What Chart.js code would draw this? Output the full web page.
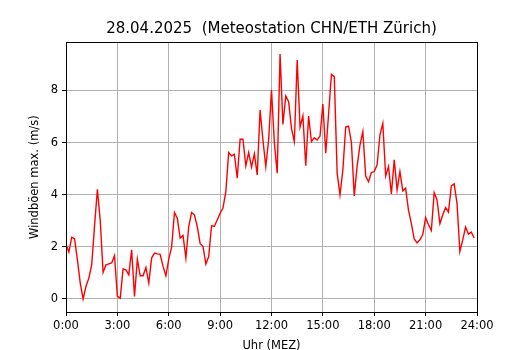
<!DOCTYPE html>
<html>
<head>
<meta charset="utf-8">
<script src="https://cdn.jsdelivr.net/npm/chart.js@4"></script>
<style>
    body { margin: 0; background: #fff; }
    canvas { display: block; }
</style>
</head>
<body>
<canvas id="graphique-vent" width="530" height="350"></canvas>
<script>
// Windböen max. (m/s), alle 10 Minuten ab 0:00
const windboeen = [
    2.1, 1.8, 2.37, 2.31, 1.5, 0.6, 0.0, 0.48, 0.8, 1.31, 2.8, 4.21,
    3.0, 1.02, 1.31, 1.35, 1.38, 1.66, 0.1, 0.03, 1.15, 1.12, 0.93, 1.89,
    0.1, 1.53, 0.89, 0.89, 1.21, 0.61, 1.57, 1.76, 1.73, 1.71, 1.25, 0.89,
    1.53, 1.99, 3.32, 3.1, 2.34, 2.44, 1.57, 2.78, 3.32, 3.23, 2.78, 2.12,
    2.02, 1.34, 1.63, 2.81, 2.79, 3.04, 3.29, 3.49, 4.12, 5.62, 5.49, 5.55,
    4.64, 6.13, 6.13, 5.11, 5.62, 5.06, 5.57, 4.76, 7.25, 6.1, 5.08, 6.1,
    8.02, 6.0, 4.83, 9.4, 6.7, 7.79, 7.57, 6.55, 6.04, 9.17, 6.6, 7.02,
    5.11, 7.02, 6.04, 6.19, 6.1, 6.25, 7.48, 5.59, 7.1, 8.62, 8.53, 4.83,
    4.0, 4.95, 6.6, 6.63, 6.0, 3.95, 5.1, 5.9, 6.42, 4.72, 4.5, 4.85,
    4.89, 5.15, 6.3, 6.74, 4.72, 5.08, 4.03, 5.34, 4.19, 4.89, 4.15, 4.25,
    3.4, 2.9, 2.3, 2.15, 2.27, 2.47, 3.12, 2.85, 2.63, 4.08, 3.8, 2.89,
    3.23, 3.51, 3.33, 4.34, 4.42, 3.67, 1.82, 2.27, 2.76, 2.49, 2.57, 2.34
];
// Minuten seit Mitternacht für jeden Messwert
const minuten = windboeen.map((v, i) => i * 10);
// Beschriftungen der Achsen
const ticksX = [0, 180, 360, 540, 720, 900, 1080, 1260, 1440];
const ticksY = [0, 2, 4, 6, 8];

const police = "'DejaVu Sans', sans-serif";
Chart.defaults.color = "#000";
Chart.defaults.font.family = police;

// Cadre noir en haut et à droite (comme matplotlib)
const cadre = {
    id: "cadre",
    afterDraw(chart) {
        const { ctx, chartArea } = chart;
        ctx.save();
        ctx.strokeStyle = "#000";
        ctx.lineWidth = 1;
        ctx.strokeRect(Math.round(chartArea.left) + 0.5, Math.round(chartArea.top) + 0.5,
            Math.round(chartArea.right - chartArea.left), Math.round(chartArea.bottom - chartArea.top));
        ctx.restore();
    }
};

const data = {
    datasets: [{
        label: "Windböen",
        data: minuten.map((m, i) => ({ x: m, y: windboeen[i] })),
        borderColor: "#ff0000",
        borderWidth: 1.4,
        pointRadius: 0,
        tension: 0,
        fill: false
    }]
};

const config = {
    type: "line",
    data: data,
    options: {
        responsive: false,
        devicePixelRatio: 1,
        animation: false,
        layout: { padding: { left: 0, right: 53, top: 0, bottom: 0 } },
        plugins: {
            legend: { display: false },
            tooltip: { enabled: false },
            title: {
                display: true,
                text: "28.04.2025  (Meteostation CHN/ETH Zürich)",
                fullSize: false,
                color: "#000",
                font: { size: 15, weight: "normal", family: police, lineHeight: 1.2 },
                padding: { top: 20, bottom: 4.3 }
            }
        },
        scales: {
            x: {
                type: "linear",
                min: 0,
                max: 1440,
                afterBuildTicks: (scale) => { scale.ticks = ticksX.map(v => ({ value: v })); },
                afterFit: (scale) => { scale.height = 38; },
                ticks: {
                    font: { size: 11.5 },
                    padding: 3,
                    maxRotation: 0,
                    callback: (v) => (v / 60) + ":00"
                },
                grid: { color: "#b0b0b0", tickColor: "#000", tickLength: 4, lineWidth: 1 },
                border: { color: "#000", width: 1 },
                title: {
                    display: true,
                    text: "Uhr (MEZ)",
                    font: { size: 11.5, lineHeight: 1.2 },
                    padding: { top: 0, bottom: -3 }
                }
            },
            y: {
                type: "linear",
                min: -0.5,
                max: 9.85,
                afterBuildTicks: (scale) => { scale.ticks = ticksY.map(v => ({ value: v })); },
                afterFit: (scale) => { scale.width = 66; },
                ticks: { font: { size: 11.5 }, padding: 4 },
                grid: { color: "#b0b0b0", tickColor: "#000", tickLength: 4, lineWidth: 1 },
                border: { color: "#000", width: 1 },
                title: {
                    display: true,
                    text: "Windböen max. (m/s)",
                    font: { size: 11.5, lineHeight: 1.2 },
                    padding: { top: 28, bottom: 0 }
                }
            }
        }
    },
    plugins: [cadre]
};

const graphiqueVent = new Chart(document.getElementById("graphique-vent"), config);
</script>
</body>
</html>
